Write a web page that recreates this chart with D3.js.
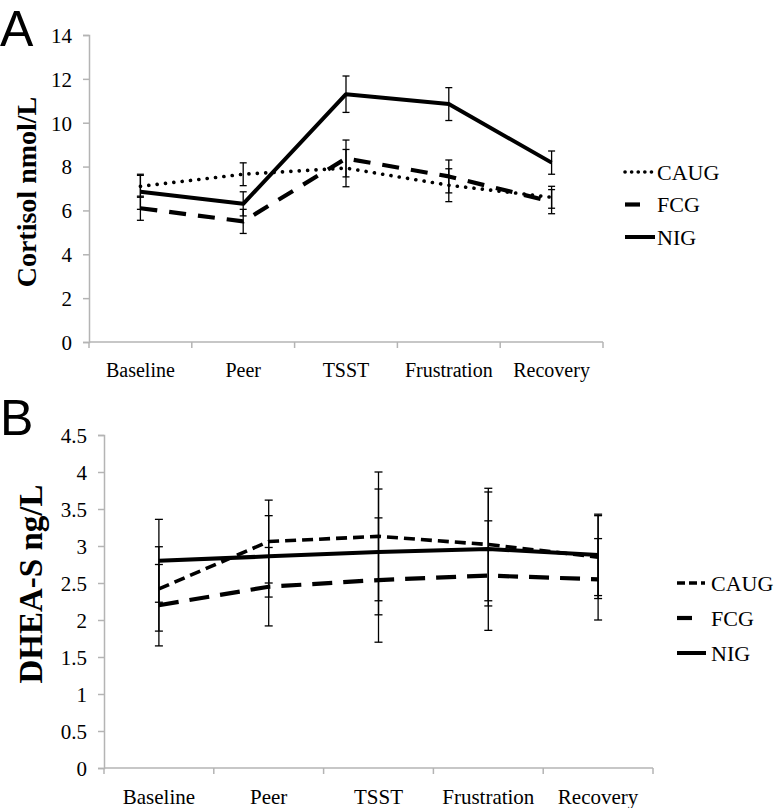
<!DOCTYPE html>
<html>
<head>
<meta charset="utf-8">
<script src="https://cdn.jsdelivr.net/npm/d3@7"></script>
<style>
  html, body { margin: 0; padding: 0; background: #fff; }
</style>
</head>
<body>
<svg id="chart" width="782" height="808"></svg>
<script>
// ---- Data ----
const categories = ["Baseline", "Peer", "TSST", "Frustration", "Recovery"];
const groups = ["CAUG", "FCG", "NIG"];

// Panel A: Cortisol nmol/L
const cortTicks = [0, 2, 4, 6, 8, 10, 12, 14];
const cortCAUG = [7.1, 7.65, 7.93, 7.15, 6.6];
const cortCAUGErr = [0.5, 0.52, 0.85, 0.75, 0.5];
const cortFCG = [6.1, 5.5, 8.37, 7.55, 6.4];
const cortFCGErr = [0.55, 0.55, 0.84, 0.75, 0.55];
const cortNIG = [6.85, 6.3, 11.3, 10.85, 8.18];
const cortNIGErr = [0.8, 0.55, 0.83, 0.75, 0.53];

// Panel B: DHEA-S ng/L
const dheaTicks = [0, 0.5, 1, 1.5, 2, 2.5, 3, 3.5, 4, 4.5];
const dheaCAUG = [2.42, 3.06, 3.13, 3.02, 2.85];
const dheaCAUGErr = [0.57, 0.56, 0.87, 0.76, 0.56];
const dheaFCG = [2.2, 2.45, 2.54, 2.6, 2.55];
const dheaFCGErr = [0.55, 0.53, 0.84, 0.74, 0.55];
const dheaNIG = [2.8, 2.86, 2.92, 2.96, 2.88];
const dheaNIGErr = [0.56, 0.55, 0.85, 0.77, 0.55];

const SERIF = "'Liberation Serif', 'Times New Roman', serif";
const svg = d3.select("#chart");

function panel(opts) {
  const g = svg.append("g");
  const x = d3.scaleBand().domain(categories).range([opts.x0, opts.x1]).padding(0);
  const y = d3.scaleLinear().domain([0, opts.ymax]).range([opts.y0, opts.y1]);
  const cx = c => x(c) + x.bandwidth() / 2;

  // y axis
  const yAxis = g.append("g").attr("transform", `translate(${opts.x0},0)`)
    .call(d3.axisLeft(y).tickValues(opts.ticks).tickSize(6).tickPadding(11).tickFormat(d => String(d)));
  yAxis.attr("font-family", null).attr("font-size", null);
  yAxis.select(".domain").attr("stroke", "#b4b4b4").attr("stroke-width", 1.5);
  yAxis.selectAll(".tick line").attr("stroke", "#b4b4b4").attr("stroke-width", 1.5);
  yAxis.selectAll(".tick text").style("font-size", opts.tickFont + "px").style("font-family", SERIF)
    .attr("fill", "#000").attr("dy", "0.35em");

  // x axis
  const xa = g.append("g");
  xa.append("line").attr("x1", opts.x0).attr("x2", opts.x1).attr("y1", y(0)).attr("y2", y(0))
    .attr("stroke", "#b4b4b4").attr("stroke-width", 1.5);
  const edges = categories.map(c => x(c)).concat([opts.x1]);
  xa.selectAll("line.tk").data(edges).enter().append("line").attr("class", "tk")
    .attr("x1", d => d).attr("x2", d => d).attr("y1", y(0)).attr("y2", y(0) + 6)
    .attr("stroke", "#b4b4b4").attr("stroke-width", 1.5);
  xa.selectAll("text").data(categories).enter().append("text")
    .attr("x", d => cx(d)).attr("y", opts.xLabelY).attr("text-anchor", "middle")
    .style("font-family", SERIF).style("font-size", opts.xFont + "px").text(d => d);

  // y label
  g.append("text").attr("transform", `translate(${opts.ylabX},${opts.ylabY}) rotate(-90)`)
    .attr("text-anchor", "middle").style("font-weight", "bold").style("font-family", SERIF)
    .style("font-size", opts.ylabFont + "px").text(opts.ylab);

  // panel letter
  g.append("text").attr("x", opts.letterX).attr("y", opts.letterY)
    .style("font-family", "'Liberation Sans', Arial, sans-serif").style("font-size", "50px").text(opts.letter);

  const line = d3.line().x(d => cx(d.c)).y(d => y(d.v));

  opts.series.forEach(s => {
    const pts = categories.map((c, i) => ({ c, v: s.values[i], e: s.err[i] }));
    // error bars
    const eb = g.append("g").attr("stroke", "#000").attr("stroke-width", 1.3);
    pts.forEach(p => {
      eb.append("line").attr("x1", cx(p.c)).attr("x2", cx(p.c)).attr("y1", y(p.v - p.e)).attr("y2", y(p.v + p.e));
      [p.v - p.e, p.v + p.e].forEach(v => {
        eb.append("line").attr("x1", cx(p.c) - opts.cap).attr("x2", cx(p.c) + opts.cap)
          .attr("y1", y(v)).attr("y2", y(v));
      });
    });
    g.append("path").datum(pts).attr("d", line).attr("fill", "none").attr("stroke", "#000")
      .attr("stroke-width", s.width).attr("stroke-dasharray", s.dash).attr("stroke-linecap", s.cap)
      .attr("stroke-linejoin", "round");
  });

  // legend
  opts.series.forEach((s, i) => {
    const ly = opts.legY + i * opts.legStep;
    g.append("line").attr("x1", opts.legX).attr("x2", opts.legX + s.legLen).attr("y1", ly).attr("y2", ly)
      .attr("stroke", "#000").attr("stroke-width", s.width).attr("stroke-dasharray", s.legDash || s.dash)
      .attr("stroke-linecap", s.cap);
    g.append("text").attr("x", opts.legX + opts.legTextDx).attr("y", ly).attr("dy", "0.35em")
      .style("font-family", SERIF).style("font-size", opts.legFont + "px").text(s.name);
  });
}

panel({
  x0: 89, x1: 603, y0: 342, y1: 35, ymax: 14, ticks: cortTicks,
  tickFont: 21, xFont: 20, xLabelY: 377,
  ylab: "Cortisol nmol/L", ylabX: 36, ylabY: 192, ylabFont: 28,
  letter: "A", letterX: 0, letterY: 46, cap: 3.5,
  legX: 625, legTextDx: 32, legY: 172, legStep: 32.5, legFont: 22,
  series: [
    { name: groups[0], values: cortCAUG, err: cortCAUGErr, dash: "0.1 8.3", cap: "round", width: 3.6, legLen: 28, legDash: "0.1 6.5" },
    { name: groups[1], values: cortFCG, err: cortFCGErr, dash: "17 12", cap: "butt", width: 4.2, legLen: 15 },
    { name: groups[2], values: cortNIG, err: cortNIGErr, dash: null, cap: "butt", width: 4, legLen: 30 }
  ]
});

panel({
  x0: 104, x1: 653, y0: 768, y1: 435, ymax: 4.5, ticks: dheaTicks,
  tickFont: 21, xFont: 21, xLabelY: 804,
  ylab: "DHEA-S ng/L", ylabX: 42, ylabY: 584, ylabFont: 33,
  letter: "B", letterX: 0, letterY: 435, cap: 4,
  legX: 677, legTextDx: 34, legY: 583, legStep: 35, legFont: 22,
  series: [
    { name: groups[0], values: dheaCAUG, err: dheaCAUGErr, dash: "11 6", cap: "butt", width: 3.6, legLen: 28, legDash: "8 4" },
    { name: groups[1], values: dheaFCG, err: dheaFCGErr, dash: "20 11", cap: "butt", width: 4.2, legLen: 15 },
    { name: groups[2], values: dheaNIG, err: dheaNIGErr, dash: null, cap: "butt", width: 4, legLen: 29 }
  ]
});
</script>
</body>
</html>
